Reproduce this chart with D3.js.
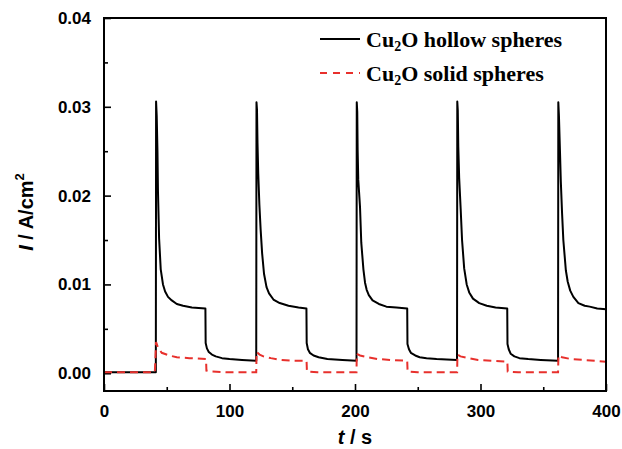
<!DOCTYPE html>
<html>
<head>
<meta charset="utf-8">
<script src="https://cdn.jsdelivr.net/npm/d3@7"></script>
<style>
  body { margin: 0; background: #fff; }
  svg { display: block; }
</style>
</head>
<body>
<svg id="chart" width="622" height="449"></svg>
<script>
// photocurrent vs time
const xTicks = [0, 100, 200, 300, 400];
const xMinor = [50, 150, 250, 350];
const yTicks = [0, 0.01, 0.02, 0.03, 0.04];
const yMinor = [0.005, 0.015, 0.025, 0.035];

const seriesNames = ["hollow spheres", "solid spheres"];

// [t (s), I (A/cm2)]
const hollow = [
  [0, 0.0001], [41.3, 0.0001], [41.5, 0.0306], [42.0, 0.0290], [42.6, 0.0250], [43.0, 0.0205],
  [43.9, 0.0152], [45.2, 0.0117], [47.0, 0.0100], [48.7, 0.0092], [51, 0.0086], [54, 0.0082],
  [58, 0.0078], [63, 0.0076], [70, 0.0074], [80.8, 0.0073],
  [81.0, 0.0034], [82, 0.0028], [83.5, 0.0024], [86, 0.0021], [89, 0.0019], [94, 0.0017],
  [100, 0.0016], [110, 0.0015], [121.3, 0.0014],
  [121.5, 0.0305], [121.9, 0.0297], [122.3, 0.0260], [122.9, 0.0225], [123.8, 0.0190], [124.8, 0.0162],
  [126, 0.0135], [127.5, 0.0112], [129.5, 0.0097], [131.5, 0.0090], [135, 0.0083], [140, 0.0079],
  [147, 0.0076], [155, 0.0074], [161.3, 0.0073],
  [161.5, 0.0034], [162.5, 0.0027], [164, 0.0023], [167, 0.0020], [171, 0.0018], [178, 0.0016],
  [190, 0.0015], [201.2, 0.0014],
  [201.4, 0.0305], [201.8, 0.0294], [202.1, 0.0252], [202.6, 0.0218], [204, 0.0187], [205, 0.0147],
  [206.7, 0.0117], [208, 0.0102], [209.3, 0.0094], [211, 0.0088], [214, 0.0082], [219, 0.0078],
  [225, 0.0075], [233, 0.0074], [241.6, 0.0073],
  [241.8, 0.0033], [243, 0.0027], [244.5, 0.0023], [248, 0.0020], [251.5, 0.0018], [257, 0.0017],
  [265, 0.0016], [281.3, 0.0015],
  [281.5, 0.0306], [281.9, 0.0296], [282.3, 0.0255], [283, 0.0220], [284.2, 0.0185], [285.3, 0.0150],
  [287, 0.0118], [289, 0.0100], [291, 0.0091], [294, 0.0084], [299, 0.0079], [305, 0.0076],
  [312, 0.0074], [321.3, 0.0073],
  [321.5, 0.0033], [322.5, 0.0027], [324, 0.0022], [327, 0.0019], [331, 0.0017], [338, 0.0016],
  [348, 0.0015], [361.8, 0.0014],
  [362, 0.0305], [362.5, 0.0290], [363.3, 0.0251], [364, 0.0216], [365, 0.0180], [366, 0.0150],
  [368, 0.0116], [369.5, 0.0103], [371.5, 0.0093], [374, 0.0086], [378, 0.0079], [383, 0.0076],
  [387, 0.0075], [393, 0.0073], [400, 0.0072]
];

const solid = [
  [0, 0.0001], [40.5, 0.0001], [41.5, 0.0035], [43, 0.0029], [46, 0.0023], [52, 0.0020],
  [58, 0.0018], [68, 0.0017], [81.3, 0.0016], [81.6, 0.0003], [85, 0.0002], [100, 0.0001],
  [121.3, 0.0001],
  [121.6, 0.0024], [124, 0.0021], [127, 0.0019], [133, 0.0017], [140, 0.0015], [150, 0.0014],
  [161.4, 0.0014], [161.7, 0.0002], [170, 0.0001], [201.2, 0.0001],
  [201.4, 0.0022], [204, 0.0020], [210, 0.0018], [218, 0.0016], [228, 0.0015], [241.6, 0.0014],
  [241.9, 0.0002], [250, 0.0001], [281.4, 0.0001],
  [281.6, 0.0021], [284, 0.0019], [290, 0.0017], [298, 0.0015], [310, 0.0014], [321.4, 0.0013],
  [321.7, 0.0002], [330, 0.0001], [361.8, 0.0001],
  [362.1, 0.0020], [365, 0.0018], [372, 0.0016], [382, 0.0015], [392, 0.0014], [400, 0.0013]
];

const svg = d3.select("#chart");
const plotLeft = 104, plotRight = 606, plotTop = 18, plotBottom = 391;

const x = d3.scaleLinear().domain([0, 400]).range([plotLeft, plotRight]);
const y = d3.scaleLinear().domain([-0.002, 0.04]).range([plotBottom, plotTop]);

const sans = "'Liberation Sans', Arial, sans-serif";
const serif = "'Liberation Serif', 'Times New Roman', serif";

// minor ticks
svg.append("g")
  .attr("transform", `translate(0,${plotBottom})`)
  .call(d3.axisBottom(x).tickValues(xMinor).tickSizeInner(-4).tickSizeOuter(0).tickFormat(""))
  .call(g => g.select(".domain").remove())
  .call(g => g.selectAll("line").attr("stroke-width", 1.6));
svg.append("g")
  .attr("transform", `translate(${plotLeft},0)`)
  .call(d3.axisLeft(y).tickValues(yMinor).tickSizeInner(-4).tickSizeOuter(0).tickFormat(""))
  .call(g => g.select(".domain").remove())
  .call(g => g.selectAll("line").attr("stroke-width", 1.6));

// major ticks + labels
svg.append("g")
  .attr("transform", `translate(0,${plotBottom})`)
  .call(d3.axisBottom(x).tickValues(xTicks).tickSizeInner(-7).tickSizeOuter(0).tickFormat(d3.format("d")))
  .call(g => g.select(".domain").remove())
  .call(g => g.selectAll("line").attr("stroke-width", 1.6))
  .call(g => g.selectAll("text").attr("y", 26).attr("dy", 0)
    .attr("font-family", sans).attr("font-weight", "bold").attr("font-size", 17).attr("fill", "#000"));
svg.append("g")
  .attr("transform", `translate(${plotLeft},0)`)
  .call(d3.axisLeft(y).tickValues(yTicks).tickSizeInner(-7).tickSizeOuter(0).tickPadding(13).tickFormat(d3.format(".2f")))
  .call(g => g.select(".domain").remove())
  .call(g => g.selectAll("line").attr("stroke-width", 1.6))
  .call(g => g.selectAll("text")
    .attr("font-family", sans).attr("font-weight", "bold").attr("font-size", 17).attr("fill", "#000"));

// data lines
const line = d3.line().x(d => x(d[0])).y(d => y(d[1]));

svg.append("path")
  .datum(hollow)
  .attr("d", line)
  .attr("fill", "none")
  .attr("stroke", "#000")
  .attr("stroke-width", 2)
  .attr("stroke-linejoin", "round");

svg.append("path")
  .datum(solid)
  .attr("d", line)
  .attr("fill", "none")
  .attr("stroke", "#e8302c")
  .attr("stroke-width", 2)
  .attr("stroke-dasharray", "8,5");

// frame
svg.append("rect")
  .attr("x", plotLeft).attr("y", plotTop)
  .attr("width", plotRight - plotLeft).attr("height", plotBottom - plotTop)
  .attr("fill", "none").attr("stroke", "#000").attr("stroke-width", 2);

// axis titles
const xt = svg.append("text")
  .attr("x", (plotLeft + plotRight) / 2).attr("y", 444)
  .attr("text-anchor", "middle")
  .attr("font-family", sans).attr("font-weight", "bold").attr("font-size", 20);
xt.append("tspan").attr("font-style", "italic").text("t");
xt.append("tspan").text(" / s");

const yt = svg.append("text")
  .attr("transform", "translate(33,212) rotate(-90)")
  .attr("text-anchor", "middle")
  .attr("font-family", sans).attr("font-weight", "bold").attr("font-size", 20);
yt.append("tspan").attr("font-style", "italic").text("I");
yt.append("tspan").text(" / A/cm");
yt.append("tspan").attr("font-size", 13).attr("dy", -9).text("2");

// legend
const legend = svg.append("g");
const legendRows = [
  { name: seriesNames[0], y: 39, color: "#000", dash: null },
  { name: seriesNames[1], y: 73, color: "#e8302c", dash: "7,6" }
];
legendRows.forEach(r => {
  legend.append("line")
    .attr("x1", 320).attr("x2", 360).attr("y1", r.y).attr("y2", r.y)
    .attr("stroke", r.color).attr("stroke-width", 2)
    .attr("stroke-dasharray", r.dash);
  const t = legend.append("text")
    .attr("x", 366).attr("y", r.y + 8)
    .attr("font-family", serif).attr("font-weight", "bold").attr("font-size", 22).attr("fill", "#000");
  t.append("tspan").text("Cu");
  t.append("tspan").attr("font-size", 14).attr("dy", 4).text("2");
  t.append("tspan").attr("dy", -4).text("O " + r.name);
});
</script>
</body>
</html>
